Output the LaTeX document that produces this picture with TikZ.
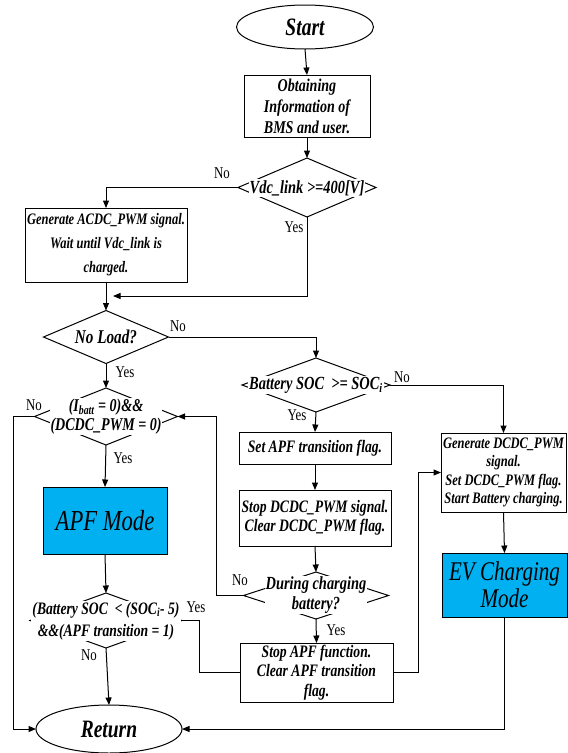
\documentclass[tikz,border=0pt]{standalone}
\usepackage{fontspec}
\setmainfont{Liberation Serif}[FakeStretch=0.78]
\usetikzlibrary{shapes.geometric,arrows.meta,calc}
\definecolor{apfcyan}{RGB}{0,176,240}
\begin{document}
\begin{tikzpicture}[x=1pt,y=-1pt,
  every node/.style={inner sep=0pt,outer sep=0pt},
  term/.style={ellipse,draw,line width=1pt,font=\fontsize{25}{27}\selectfont\bfseries\itshape},
  box/.style={rectangle,draw,line width=1pt,align=center,font=\fontsize{17.5}{20}\selectfont\bfseries\itshape},
  sbox/.style={box,font=\fontsize{16}{18.5}\selectfont\bfseries\itshape},
  mode/.style={rectangle,draw,line width=1pt,fill=apfcyan,align=center},
  dia/.style={diamond,draw,line width=1pt},
  dtext/.style={fill=white,inner sep=1pt,align=center,font=\fontsize{18.5}{19}\selectfont\bfseries\itshape},
  lbl/.style={font=\fontsize{16.5}{16.5}\selectfont},
  conn/.style={line width=1pt},
  arr/.style={conn,-{Triangle[length=7.5pt,width=6pt]}}
]
\useasboundingbox (0,0) rectangle (568,753);

% terminals and boxes
\node[term,minimum width=137pt,minimum height=44pt] (start) at (305,27) {Start};
\node[box,minimum width=126pt,minimum height=62pt,font=\fontsize{18}{21}\selectfont\bfseries\itshape] (obtain) at (307,106) {Obtaining\\Information of\\BMS and user.};
\node[dia,minimum width=138pt,minimum height=59pt] (vdc) at (307,187.5) {};
\node[dtext] (vdct) at (307,188) {Vdc\_link >=400[V]};
\node[sbox,minimum width=162pt,minimum height=74pt,font=\fontsize{16}{24}\selectfont\bfseries\itshape] (acdc) at (106,245) {Generate ACDC\_PWM signal.\\Wait until Vdc\_link is\\charged.};
\coordinate (m) at (113,296);
\node[dia,minimum width=125pt,minimum height=53pt] (noload) at (106,337) {};
\node[dtext,font=\fontsize{19.5}{20}\selectfont\bfseries\itshape] (noloadt) at (106,337) {No Load?};
\node[dia,minimum width=148pt,minimum height=54pt] (soc) at (316,385) {};
\node[dtext] (soct) at (316,385) {Battery SOC\ \ >= SOC\textsubscript{i}};
\node[dia,minimum width=143pt,minimum height=57pt] (ibatt) at (106,416.5) {};
\node[dtext,font=\fontsize{18}{19}\selectfont\bfseries\itshape] (ibattt) at (106,416.5) {(I\textsubscript{batt} = 0)\&\&\\(DCDC\_PWM = 0)};
\node[mode,minimum width=124pt,minimum height=67pt,font=\fontsize{29}{31}\selectfont\itshape] (apf) at (105,520.5) {APF Mode};
\node[box,minimum width=152pt,minimum height=32pt] (setapf) at (315,448) {Set APF transition flag.};
\node[box,minimum width=152pt,minimum height=56pt,font=\fontsize{17.5}{19.5}\selectfont\bfseries\itshape] (stopdcdc) at (315,518) {Stop DCDC\_PWM signal.\\Clear DCDC\_PWM flag.};
\node[sbox,minimum width=125pt,minimum height=79pt] (gendcdc) at (503.5,472.5) {Generate DCDC\_PWM\\signal.\\Set DCDC\_PWM flag.\\Start Battery charging.};
\node[mode,minimum width=125pt,minimum height=64pt,font=\fontsize{27}{27}\selectfont\itshape] (ev) at (504.5,585) {EV Charging\\Mode};
\node[dia,minimum width=145pt,minimum height=47pt] (during) at (316,595.5) {};
\node[dtext,font=\fontsize{18.5}{20}\selectfont\bfseries\itshape] (duringt) at (316,595) {During charging\\battery?};
\node[box,minimum width=153pt,minimum height=59pt,font=\fontsize{17.5}{19.5}\selectfont\bfseries\itshape] (stopapf) at (316.5,672.5) {Stop APF function.\\Clear APF transition\\flag.};
\node[dia,minimum width=152pt,minimum height=55pt] (lowdia) at (106,620.5) {};
\node[dtext,font=\fontsize{17.5}{22}\selectfont\bfseries\itshape] (lowdiat) at (106,621) {(Battery SOC\ \ < (SOC\textsubscript{i}- 5)\\\&\&(APF transition = 1)};
\node[term,minimum width=146pt,minimum height=48pt] (ret) at (109,729) {Return};

% labels
\node[lbl] (l1) at (222,173) {No};
\node[lbl] (l2) at (294,227) {Yes};
\node[lbl] (l3) at (178,326) {No};
\node[lbl] (l4) at (125,372) {Yes};
\node[lbl] (l5) at (402,377) {No};
\node[lbl] (l6) at (297,415) {Yes};
\node[lbl] (l7) at (34,405) {No};
\node[lbl] (l8) at (123,458) {Yes};
\node[lbl] (l9) at (240,580) {No};
\node[lbl] (l10) at (336,630) {Yes};
\node[lbl] (l11) at (196,607) {Yes};
\node[lbl] (l12) at (89,655) {No};

% connectors
\draw[arr] (start.south) -- (obtain.north);
\draw[arr] (obtain.south) -- (vdc.north);
\draw[arr] (vdc.west) -| (acdc.north);
\draw[arr] (vdc.south) |- (m);
\draw[arr] (acdc.south) -- (noload.north);
\draw[arr] (noload.east) -| (soc.north);
\draw[arr] (noload.south) -- (ibatt.north);
\draw[arr] (ibatt.south) -- (apf.north);
\draw[arr] (ibatt.west) -- (13,416.5) |- (ret.west);
\draw[arr] (during.west) -- (216,595.5) |- (ibatt.east);
\draw[arr] (soc.east) -| (gendcdc.north);
\draw[arr] (soc.south) -- (setapf.north);
\draw[arr] (setapf.south) -- (stopdcdc.north);
\draw[arr] (stopdcdc.south) -- (during.north);
\draw[arr] (during.south) -- (stopapf.north);
\draw[arr] (stopapf.east) -- (418,672.5) |- (gendcdc.west);
\draw[arr] (gendcdc.south) -- (ev.north);
\draw[arr] (ev.south) |- (ret.east);
\draw[arr] (apf.south) -- (lowdia.north);
\draw[conn] (lowdia.east) -- (199,620.5) |- (stopapf.west);
\draw[arr] (lowdia.south) -- (ret.north);
\end{tikzpicture}
\end{document}
